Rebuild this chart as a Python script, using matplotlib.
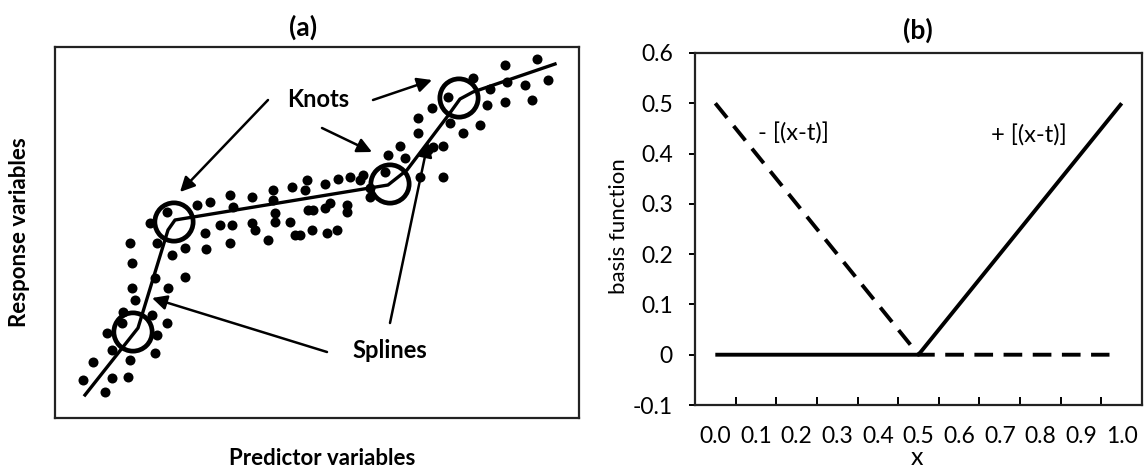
import matplotlib
matplotlib.use("Agg")
import matplotlib.pyplot as plt

plt.rcParams['font.family'] = ['Lato', 'DejaVu Sans']

# ---------------- Panel (a) data (arbitrary units) ----------
pred_x = [70, 72, 90, 107, 97, 112, 125, 137, 150, 145, 146, 170, 173, 192, 160, 172, 170, 192, 195,
          95, 108, 125, 72, 75, 63, 92, 107, 47, 62, 97, 52, 70, 95, 33, 23, 52, 68, 45,
          213, 213, 232, 247, 245, 265, 278, 290, 300, 303, 215, 215, 230, 208, 235, 240, 252, 267, 277,
          248, 253, 265, 270, 287, 287, 310, 310, 325, 328, 340, 345, 358, 358, 372, 360, 383, 383,
          388, 390, 403, 413, 430, 427, 420, 445, 447, 445, 465, 472, 477, 488, 368, 373]
resp_y = [177, 157, 197, 208, 177, 165, 172, 215, 218, 187, 171, 225, 213, 223, 195, 195, 177, 197, 190,
          142, 132, 143, 132, 120, 108, 105, 97, 87, 97, 85, 70, 60, 67, 58, 40, 42, 43, 28,
          230, 220, 233, 240, 230, 236, 241, 243, 240, 245, 207, 198, 198, 180, 185, 185, 190, 187, 190,
          210, 210, 212, 217, 215, 208, 223, 232, 248, 265, 274, 262, 287, 302, 312, 243, 274, 243,
          323, 297, 287, 342, 331, 315, 295, 355, 338, 318, 335, 320, 361, 340, 270, 273]

spline_x = [25, 78, 108, 115, 328, 347, 387, 400, 413, 495]
spline_y = [25, 92, 190, 200, 235, 250, 303, 321, 328, 356]

knot_x = [114, 73, 330, 399]
knot_y = [198, 88, 236, 322]

# annotation arrows: (tail_x, tail_y, head_x, head_y)
knot_arrows = [(208, 320, 120, 228), (313, 320, 372, 340), (262, 292, 312, 268)]
spline_arrows = [(267, 68, 92, 122), (330, 97, 368, 278)]

# ---------------- Panel (b) data ----------------
x_vals = [0.0, 0.5, 1.0]
plus_basis = [0.0, 0.0, 0.5]
minus_x = [0.0, 0.5, 0.97]
minus_basis = [0.5, 0.0, 0.0]
xticklabels = ['0.0', '0.1', '0.2', '0.3', '0.4', '0.5', '0.6', '0.7', '0.8', '0.9', '1.0']
yticks = [-0.1, 0.0, 0.1, 0.2, 0.3, 0.4, 0.5, 0.6]
yticklabels = ['-0.1', '0', '0.1', '0.2', '0.3', '0.4', '0.5', '0.6']

W, H = 1145, 469
fig = plt.figure(figsize=(W / 100, H / 100), dpi=100)

# ---- panel (a)
axa = fig.add_axes([55 / W, 1 - 418 / H, 524 / W, 371 / H])
axa.set_xlim(-5, 519)
axa.set_ylim(2, 373)
axa.set_xticks([])
axa.set_yticks([])
for s in axa.spines.values():
    s.set_linewidth(1.6)
    s.set_color('#222222')

axa.plot(spline_x, spline_y, color='black', lw=2.4, solid_joinstyle='round', zorder=3)
axa.scatter(pred_x, resp_y, s=52, color='black', linewidths=0, zorder=2)
axa.scatter(knot_x, knot_y, s=760, facecolors='none', edgecolors='black', linewidths=3.4, zorder=4)

for tx, ty, hx, hy in knot_arrows + spline_arrows:
    axa.annotate('', xy=(hx, hy), xytext=(tx, ty),
                 arrowprops=dict(arrowstyle='-|>', color='black', lw=1.8,
                                 mutation_scale=22, shrinkA=0, shrinkB=0), zorder=5)

axa.text(258, 321, 'Knots', ha='center', va='center', fontsize=17, fontweight='bold')
axa.text(330, 70, 'Splines', ha='center', va='center', fontsize=17, fontweight='bold')

fig.text(303 / W, 1 - 27 / H, '(a)', ha='center', va='center', fontsize=19, fontweight='bold')
fig.text(20 / W, 1 - 232 / H, 'Response variables', ha='center', va='center', rotation=90,
         fontsize=16, fontweight='bold')
fig.text(322 / W, 1 - 458 / H, 'Predictor variables', ha='center', va='center',
         fontsize=16, fontweight='bold')

# ---- panel (b)
axb = fig.add_axes([695 / W, 1 - 405 / H, 447 / W, 352 / H])
axb.set_xlim(-0.05, 1.05)
axb.set_ylim(-0.1, 0.6)
for s in axb.spines.values():
    s.set_linewidth(1.6)
    s.set_color('#222222')

axb.plot(minus_x, minus_basis, color='black', lw=2.8, linestyle=(0, (4.8, 2.7)), zorder=3)
axb.plot(x_vals, plus_basis, color='black', lw=2.8, zorder=3, solid_capstyle='butt')

major = [i / 10 for i in range(11)]
axb.set_xticks(major)
axb.set_xticklabels(xticklabels, fontsize=16.5)
axb.set_xticks([0.05 + i / 10 for i in range(10)], minor=True)
axb.tick_params(axis='x', which='major', length=0, pad=15)
axb.tick_params(axis='x', which='minor', direction='in', length=6, width=1.4)
axb.set_yticks(yticks)
axb.set_yticklabels(yticklabels, fontsize=16.5)
axb.tick_params(axis='y', direction='out', length=4, width=1.4, pad=12)

axb.text(0.105, 0.44, '- [(x-t)]', ha='left', va='center', fontsize=17)
axb.text(0.678, 0.435, '+ [(x-t)]', ha='left', va='center', fontsize=17)

fig.text(918 / W, 1 - 30 / H, '(b)', ha='center', va='center', fontsize=19, fontweight='bold')
fig.text(619 / W, 1 - 226 / H, 'basis function', ha='center', va='center', rotation=90, fontsize=16)
fig.text(917 / W, 4 / H, 'x', ha='center', va='baseline', fontsize=18)

fig.savefig('out.png', dpi=100)
